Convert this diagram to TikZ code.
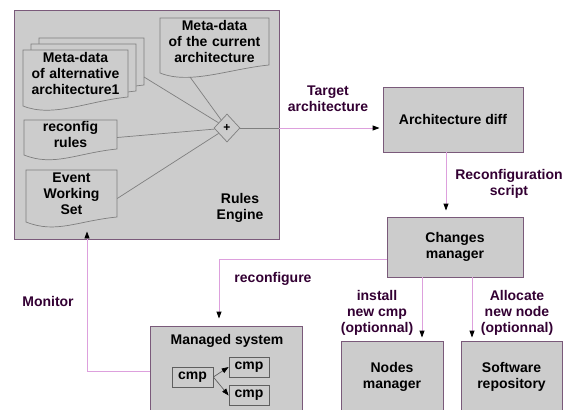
\documentclass[tikz,border=0pt]{standalone}
\usepackage{fontspec}
\setmainfont{Liberation Sans}
\usetikzlibrary{arrows.meta,shapes.geometric,positioning}
\definecolor{boxgray}{HTML}{CCCCCC}
\definecolor{boxedge}{HTML}{7A5A7A}
\definecolor{linkpink}{HTML}{DDA0DD}
\definecolor{labelpurple}{HTML}{330033}
\definecolor{docedge}{HTML}{7F7F7F}
\definecolor{cmpedge}{HTML}{5F5F5F}
\tikzset{
  block/.style={rectangle,draw=boxedge,fill=boxgray,line width=0.9pt,align=center},
  boxtitle/.style={align=center,inner sep=0pt},
  docline/.style={draw=docedge,fill=boxgray,line width=0.7pt},
  doctext/.style={align=center,inner sep=0pt},
  cmpbox/.style={rectangle,draw=cmpedge,fill=boxgray,line width=0.7pt,minimum width=40,minimum height=20,inner sep=0pt},
  link/.style={draw=linkpink,line width=0.9pt},
  inner/.style={draw=docedge,line width=0.7pt},
  tipped/.style={-{Triangle[length=7pt,width=5pt,color=black]}},
  edgelabel/.style={align=center,text=labelpurple,inner sep=0pt}
}
\newcommand{\docpage}[5]{\filldraw[docline] (#1,#2) -- (#3,#2) -- (#3,#4) .. controls +(-40,4) and +(30,12) .. (#1,#5) -- cycle;}
\begin{document}
\begin{tikzpicture}[x=1pt,y=-1pt,every node/.style={font=\bfseries\fontsize{14}{16}\selectfont}]
\useasboundingbox (0,0) rectangle (566,410);
\clip (0,0) rectangle (566,410);
\node at (146.5,124.5)[block,minimum width=265,minimum height=229](re){};
\node at (240,208)[boxtitle](retitle){Rules\\Engine};
\docpage{39}{38}{144}{85}{94}
\docpage{31}{44}{136}{91}{100}
\docpage{23}{50}{128}{97}{106}
\node at (75.5,73.5)[doctext,text width=105](alt){Meta-data\\of alternative\\architecture1};
\docpage{160}{18}{269}{65}{73}
\node at (214.5,41.5)[doctext,text width=109](cur){Meta-data\\of the current\\architecture};
\docpage{24}{120}{117}{149}{155}
\node at (70.5,134.5)[doctext,text width=93](rules){reconfig\\rules};
\docpage{26}{170}{117}{217}{222}
\node at (71.5,193.5)[doctext,text width=91](evt){Event\\Working\\Set};
\coordinate (altpin) at (144,77);
\coordinate (curpin) at (190,77);
\node at (227,128)[diamond,draw=docedge,fill=boxgray,line width=0.7pt,minimum width=26,minimum height=28,inner sep=0pt,font=\bfseries\fontsize{12}{12}\selectfont](plus){+};
\draw[inner] (plus) -- (altpin);
\draw[inner] (plus) -- (curpin);
\draw[inner] (plus) -- ([yshift=-3pt]rules.east);
\draw[inner] (plus) -- ([yshift=-5pt]evt.east);
\node at (453,119.5)[block,minimum width=140,minimum height=65](diff){Architecture diff};
\node at (455,247)[block,minimum width=136,minimum height=60](cm){Changes\\manager};
\node at (226,378)[block,minimum width=152,minimum height=104](ms){};
\node at (227,341)[boxtitle](mstitle){Managed system};
\node at (392,377)[block,minimum width=102,minimum height=72](nm){Nodes\\manager};
\node at (511.5,377)[block,minimum width=101,minimum height=72](sr){Software\\repository};
\node at (192.5,377)[cmpbox,minimum width=41](c0){cmp};
\node at (249,367)[cmpbox](c1){cmp};
\node at (249,395.5)[cmpbox](c2){cmp};
\draw[inner,draw=cmpedge,tipped] (c0.east) -- (c1.west);
\draw[inner,draw=cmpedge,tipped] (c0.east) -- (c2.west);
\draw[inner] (plus.east) -- (plus -| re.east);
\draw[link,tipped,shorten >=3pt] (plus -| re.east) -- (plus -| diff.west);
\node at (328,99)[edgelabel](tgt){Target\\architecture};
\draw[link,tipped,shorten >=6pt] ([xshift=-7pt]diff.south) -- ([xshift=-7pt]diff.south |- cm.north);
\node at (509,184)[edgelabel](rscript){Reconfiguration\\script};
\draw[link,tipped,shorten >=7pt] ([yshift=-12pt]cm.west) -| ([xshift=-7pt]ms.north);
\node at (273,279)[edgelabel](reconf){reconfigure};
\draw[link,tipped,shorten >=-8pt] ([yshift=7pt]ms.west) -| ([xshift=-59.5pt]re.south);
\node at (48,301)[edgelabel](mon){Monitor};
\draw[link,tipped,shorten >=3pt] ([xshift=-33pt]cm.south) -- ([xshift=-33pt]cm.south |- nm.north);
\node at (377,313)[edgelabel](inst){install\\new cmp\\(optionnal)};
\draw[link,tipped,shorten >=3pt] ([xshift=17pt]cm.south) -- ([xshift=17pt]cm.south |- sr.north);
\node at (517,313)[edgelabel](alloc){Allocate\\new node\\(optionnal)};
\end{tikzpicture}
\end{document}
